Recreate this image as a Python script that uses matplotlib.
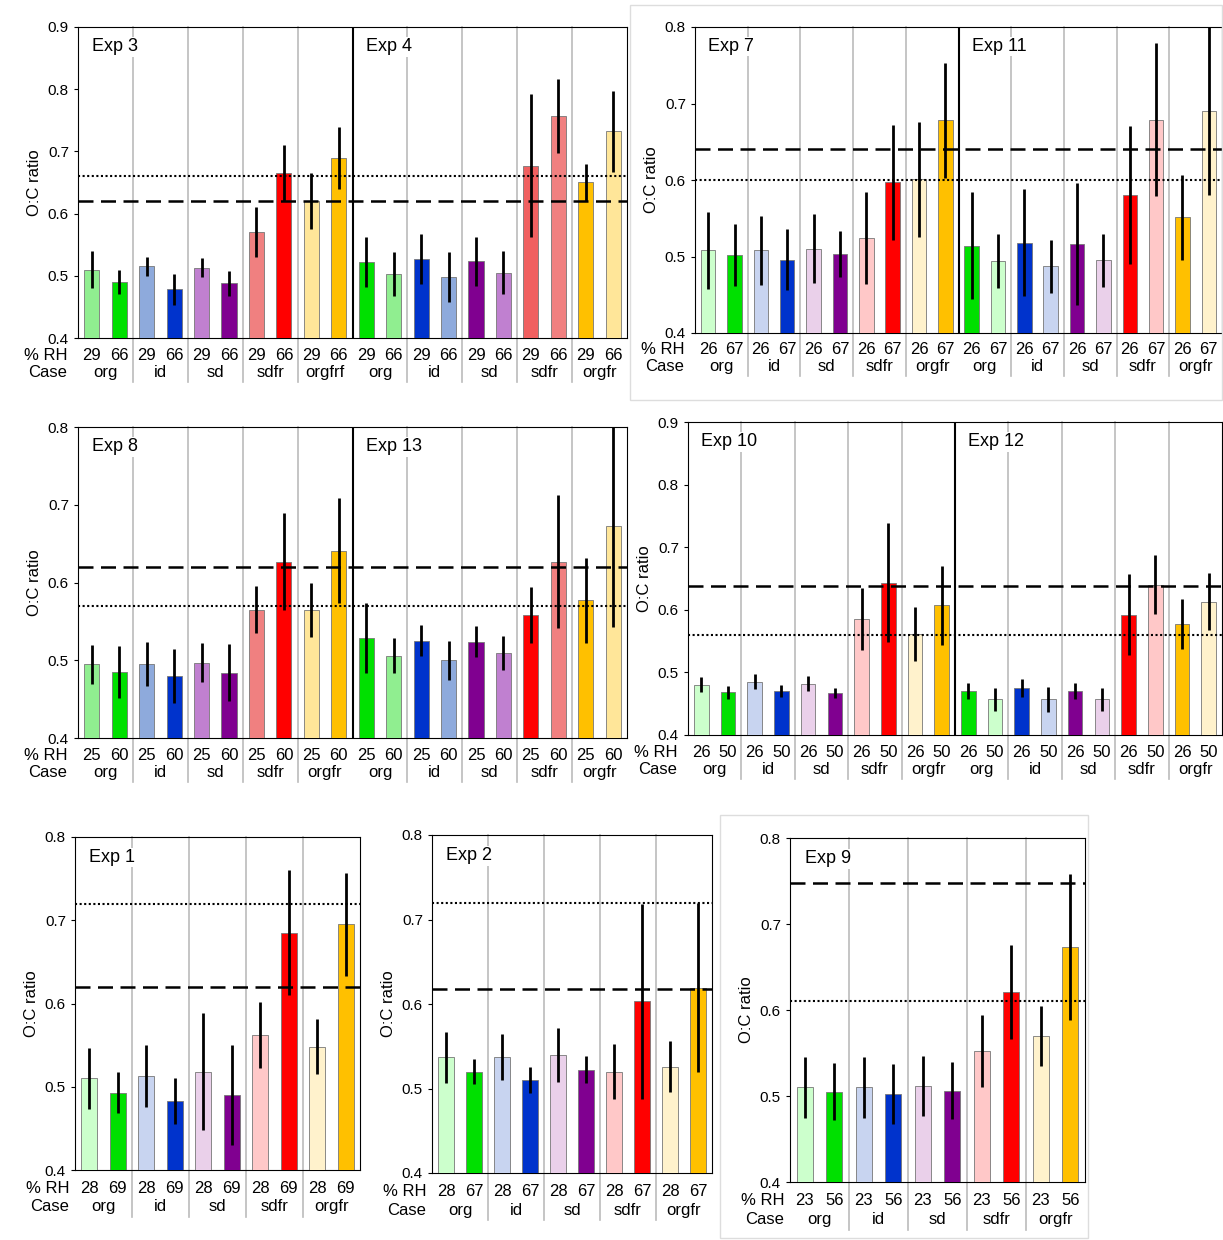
import numpy as np
import matplotlib
matplotlib.use("Agg")
import matplotlib.pyplot as plt
from matplotlib.transforms import blended_transform_factory
from matplotlib.patches import Rectangle

plt.rcParams['font.family'] = ['Liberation Sans', 'DejaVu Sans']

# colours
PG, G, LG = '#ccffcc', '#00e000', '#90ee90'
PB, B, LB = '#c8d4f0', '#0033cc', '#8eaadc'
PP, P, LP = '#ead0ea', '#800090', '#c080d0'
PR, R, LR = '#ffc8c8', '#ff0000', '#f08080'
PY, O, LY = '#fff2cc', '#ffc000', '#ffe699'

# data: (means, errors, colours)
exp3_m = [0.51, 0.49, 0.515, 0.478, 0.513, 0.488, 0.57, 0.665, 0.62, 0.69]
exp3_e = [0.03, 0.02, 0.015, 0.025, 0.015, 0.02, 0.04, 0.045, 0.045, 0.05]
exp3_c = [LG, G, LB, B, LP, P, LR, R, LY, O]
exp4_m = [0.522, 0.503, 0.527, 0.498, 0.523, 0.505, 0.677, 0.757, 0.65, 0.732]
exp4_e = [0.04, 0.035, 0.04, 0.04, 0.04, 0.035, 0.115, 0.06, 0.03, 0.065]
exp4_c = [G, LG, B, LB, P, LP, '#f06060', LR, O, LY]

exp7_m = [0.508, 0.502, 0.508, 0.496, 0.51, 0.503, 0.524, 0.597, 0.601, 0.678]
exp7_e = [0.05, 0.04, 0.045, 0.04, 0.045, 0.03, 0.06, 0.075, 0.075, 0.075]
exp7_c = [PG, G, PB, B, PP, P, PR, R, PY, O]
exp11_m = [0.514, 0.494, 0.518, 0.487, 0.516, 0.495, 0.58, 0.679, 0.551, 0.69]
exp11_e = [0.07, 0.035, 0.07, 0.035, 0.08, 0.035, 0.09, 0.1, 0.055, 0.11]
exp11_c = [G, PG, B, PB, P, PP, R, PR, O, PY]

exp8_m = [0.495, 0.485, 0.495, 0.48, 0.497, 0.484, 0.565, 0.627, 0.565, 0.641]
exp8_e = [0.025, 0.033, 0.028, 0.035, 0.025, 0.037, 0.03, 0.063, 0.035, 0.068]
exp8_c = [LG, G, LB, B, LP, P, LR, R, LY, O]
exp13_m = [0.528, 0.506, 0.525, 0.5, 0.524, 0.509, 0.558, 0.627, 0.577, 0.673]
exp13_e = [0.045, 0.023, 0.02, 0.025, 0.02, 0.022, 0.036, 0.085, 0.055, 0.13]
exp13_c = [G, LG, B, LB, P, LP, R, LR, O, LY]

exp10_m = [0.48, 0.468, 0.485, 0.47, 0.482, 0.467, 0.585, 0.643, 0.562, 0.607]
exp10_e = [0.012, 0.01, 0.012, 0.01, 0.012, 0.008, 0.05, 0.095, 0.043, 0.063]
exp10_c = [PG, G, PB, B, PP, P, PR, R, PY, O]
exp12_m = [0.47, 0.457, 0.475, 0.457, 0.47, 0.457, 0.592, 0.64, 0.578, 0.613]
exp12_e = [0.013, 0.018, 0.015, 0.02, 0.013, 0.018, 0.065, 0.047, 0.04, 0.045]
exp12_c = [G, PG, B, PB, P, PP, R, PR, O, PY]

exp1_m = [0.51, 0.493, 0.513, 0.483, 0.518, 0.49, 0.562, 0.685, 0.548, 0.695]
exp1_e = [0.037, 0.025, 0.037, 0.028, 0.07, 0.06, 0.04, 0.075, 0.033, 0.062]
exp1_c = [PG, G, PB, B, PP, P, PR, R, PY, O]
exp2_m = [0.537, 0.52, 0.537, 0.51, 0.54, 0.522, 0.52, 0.603, 0.526, 0.619]
exp2_e = [0.03, 0.015, 0.027, 0.015, 0.032, 0.016, 0.033, 0.115, 0.03, 0.1]
exp2_c = exp1_c
exp9_m = [0.51, 0.505, 0.51, 0.502, 0.512, 0.506, 0.552, 0.621, 0.57, 0.673]
exp9_e = [0.035, 0.033, 0.035, 0.035, 0.035, 0.033, 0.042, 0.055, 0.035, 0.085]
exp9_c = exp1_c

cases = ['org', 'id', 'sd', 'sdfr', 'orgfr']
cases3 = ['org', 'id', 'sd', 'sdfr', 'orgfrf']

W, H = 1223, 1240
fig = plt.figure(figsize=(W / 100, H / 100), dpi=100)


def panel(l, r, t, b, exps, ylim, dashed, dotted, rh, case_lists, names):
    ax = fig.add_axes([l / W, 1 - b / H, (r - l) / W, (b - t) / H])
    means = sum([e[0] for e in exps], [])
    errs = sum([e[1] for e in exps], [])
    cols = sum([e[2] for e in exps], [])
    x = np.arange(len(means))
    ax.bar(x, means, 0.55, color=cols, edgecolor='#777777', linewidth=0.6, zorder=3)
    ax.errorbar(x, means, yerr=errs, fmt='none', ecolor='black', elinewidth=2, zorder=4)
    ax.set_xlim(-0.5, len(means) - 0.5)
    ax.set_ylim(*ylim)
    ax.set_yticks(np.arange(ylim[0], ylim[1] + 0.001, 0.1))
    ax.set_yticklabels(['%.1f' % v for v in np.arange(ylim[0], ylim[1] + 0.001, 0.1)], fontsize=11)
    ax.set_xticks([])
    ax.set_ylabel('O:C ratio', fontsize=12)
    ax.tick_params(axis='y', length=3)
    ax.axhline(dashed, color='black', ls=(0, (6, 3)), lw=1.8, zorder=5)
    ax.axhline(dotted, color='black', ls=(0, (1, 1.2)), lw=1.5, zorder=5)
    tr = blended_transform_factory(ax.transData, ax.transAxes)
    for k in range(1, len(means) // 2):
        xx = 2 * k - 0.5
        if k % 5 == 0:
            ax.plot([xx, xx], [0, 1], color='black', lw=1.5, transform=tr, zorder=2)
        else:
            ax.plot([xx, xx], [-0.14, 1], color='#bbbbbb', lw=1.2,
                    transform=tr, clip_on=False, zorder=2)
    for i in range(len(means) // 2):
        ax.text(2 * i, -0.055, rh[0], transform=tr, ha='center', va='center', fontsize=12)
        ax.text(2 * i + 1, -0.055, rh[1], transform=tr, ha='center', va='center', fontsize=12)
        cl = case_lists[i // 5]
        ax.text(2 * i + 0.5, -0.11, cl[i % 5], transform=tr, ha='center', va='center', fontsize=12)
    ax.text(-0.02, -0.055, '% RH', transform=ax.transAxes, ha='right', va='center', fontsize=12)
    ax.text(-0.02, -0.11, 'Case', transform=ax.transAxes, ha='right', va='center', fontsize=12)
    for j, n in enumerate(names):
        ax.text(10 * j - 0.5 + 0.5, ylim[1] - 0.036 * (ylim[1] - ylim[0]), n,
                fontsize=13, va='top', zorder=6,
                bbox=dict(facecolor='white', edgecolor='none', pad=1))
    return ax


panel(78, 627, 27, 338, [(exp3_m, exp3_e, exp3_c), (exp4_m, exp4_e, exp4_c)],
      (0.4, 0.9), 0.62, 0.66, ('29', '66'), [cases3, cases], ['Exp 3', 'Exp 4'])
panel(695, 1222, 27, 333, [(exp7_m, exp7_e, exp7_c), (exp11_m, exp11_e, exp11_c)],
      (0.4, 0.8), 0.64, 0.60, ('26', '67'), [cases, cases], ['Exp 7', 'Exp 11'])
panel(78, 627, 427, 738, [(exp8_m, exp8_e, exp8_c), (exp13_m, exp13_e, exp13_c)],
      (0.4, 0.8), 0.62, 0.57, ('25', '60'), [cases, cases], ['Exp 8', 'Exp 13'])
panel(688, 1222, 422, 735, [(exp10_m, exp10_e, exp10_c), (exp12_m, exp12_e, exp12_c)],
      (0.4, 0.9), 0.638, 0.56, ('26', '50'), [cases, cases], ['Exp 10', 'Exp 12'])
panel(75, 360, 837, 1170, [(exp1_m, exp1_e, exp1_c)],
      (0.4, 0.8), 0.62, 0.72, ('28', '69'), [cases], ['Exp 1'])
panel(432, 712, 835, 1173, [(exp2_m, exp2_e, exp2_c)],
      (0.4, 0.8), 0.618, 0.72, ('28', '67'), [cases], ['Exp 2'])
panel(790, 1085, 838, 1182, [(exp9_m, exp9_e, exp9_c)],
      (0.4, 0.8), 0.748, 0.61, ('23', '56'), [cases], ['Exp 9'])

# thin frames around some panels
for (x0, y0, x1, y1) in [(630, 5, 1222, 400), (720, 815, 1088, 1238)]:
    fig.patches.append(Rectangle((x0 / W, 1 - y1 / H), (x1 - x0) / W, (y1 - y0) / H,
                                 transform=fig.transFigure, fill=False,
                                 edgecolor='#dddddd', lw=1))

fig.savefig('out.png', dpi=100)
